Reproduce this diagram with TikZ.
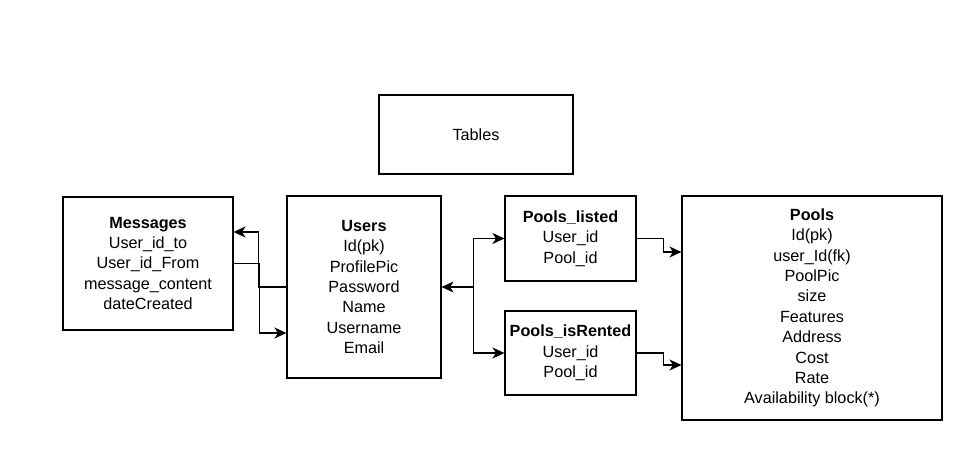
\documentclass[tikz,border=0pt]{standalone}
\usepackage{fontspec}
\setmainfont{Liberation Sans}
\usepackage{tikz}
\usetikzlibrary{arrows.meta}
\usetikzlibrary{positioning,calc}

\begin{document}
\begin{tikzpicture}[x=1pt,y=-1pt,>={Stealth[length=12pt,width=11pt,inset=3.5pt]},
    tbl/.style={draw,line width=1.1pt,align=center,inner sep=0pt,
      font=\fontsize{16.2}{20.4}\selectfont},
    link/.style={line width=1.1pt,->}]
    \useasboundingbox (0,0) rectangle (966,474);
    % title box
    \node[tbl,minimum width=194,minimum height=79] (title) at (476,134.5) {Tables};
    % tables
    \node[tbl,minimum width=170,minimum height=133] (msg) at (148,263.5)
      {\textbf{Messages}\\User\_id\_to\\User\_id\_From\\message\_content\\dateCreated};
    \node[tbl,minimum width=154,minimum height=182] (users) at (364,287)
      {\textbf{Users}\\Id(pk)\\ProfilePic\\Password\\Name\\Username\\Email};
    \node[tbl,minimum width=131,minimum height=85] (listed) at (570.5,238.5)
      {\textbf{Pools\_listed}\\User\_id\\Pool\_id};
    \node[tbl,minimum width=131,minimum height=84] (rented) at (570.5,353)
      {\textbf{Pools\_isRented}\\User\_id\\Pool\_id};
    \node[tbl,minimum width=260,minimum height=224] (pools) at (812,308)
      {\textbf{Pools}\\Id(pk)\\user\_Id(fk)\\PoolPic\\size\\Features\\Address\\Cost\\Rate\\Availability block(*)};
    % users <-> messages
    \draw[link] (users.west) -- ++(-28,0) |- ([yshift=31.5pt]msg.east);
    \draw[link] (msg.east) -- ++(26,0) |- ([yshift=-46pt]users.west);
    % users <-> pool tables
    \draw[link,<->] (users.east) -- ++(32,0) coordinate (jn) |- (listed.west);
    \draw[link] (jn) |- (rented.west);
    % pool tables -> pools
    \draw[link] (listed.east) -- ++(27,0) |- ([yshift=56pt]pools.west);
    \draw[link] (rented.east) -- ++(27,0) |- ([yshift=-57pt]pools.west);
\end{tikzpicture}
\end{document}
